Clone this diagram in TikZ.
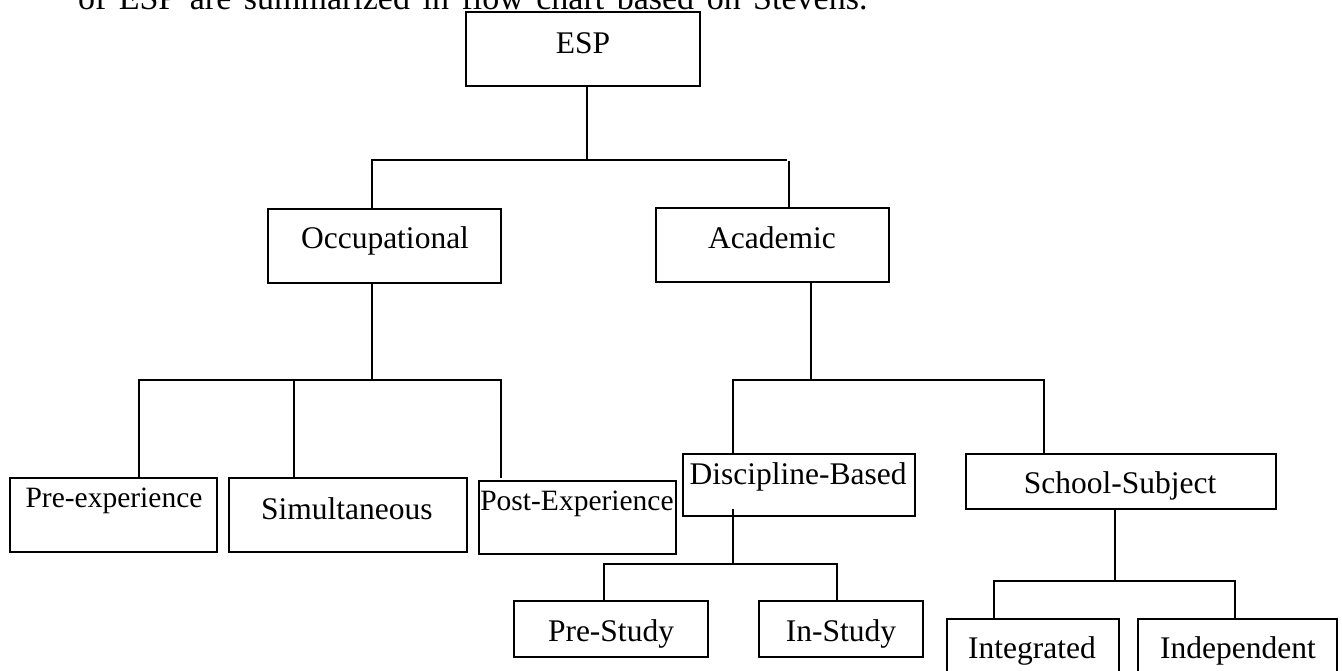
\documentclass[tikz,border=0pt]{standalone}
\usepackage{fontspec}
\setmainfont{Liberation Serif}
\begin{document}
\begin{tikzpicture}[x=1pt,y=-1pt,
  box/.style={draw, line width=1.6pt, rectangle, inner sep=0pt, outer sep=0pt},
  lbl/.style={inner sep=0pt, outer sep=0pt, font=\fontsize{31.5}{36}\selectfont},
  lblsmall/.style={inner sep=0pt, outer sep=0pt, font=\fontsize{29.5}{34}\selectfont},
  introtext/.style={inner sep=0pt, outer sep=0pt, font=\fontsize{34}{38}\selectfont},
  conn/.style={line width=1.6pt}]
\useasboundingbox (0,0) rectangle (1342,670);
\clip (0,0) rectangle (1342,670);
\fill[white] (0,0) rectangle (1342,670);
% intro text (cut at top)
\node[introtext, anchor=base west] (intro) at (78,9) {\spaceskip=12.5pt of ESP are summarized in flow chart based on Stevens.};
% boxes
\node[box, minimum width=234pt, minimum height=74pt] (esp) at (583,49) {};
\node[box, minimum width=233pt, minimum height=74pt] (occ) at (384.5,246) {};
\node[box, minimum width=233pt, minimum height=74pt] (acad) at (772.5,245) {};
\node[box, minimum width=207pt, minimum height=74pt] (pre) at (113.5,515) {};
\node[box, minimum width=238pt, minimum height=74pt] (sim) at (348,515) {};
\node[box, minimum width=197pt, minimum height=73pt] (post) at (577.5,517.5) {};
\node[box, minimum width=232pt, minimum height=62pt] (disc) at (799,485) {};
\node[box, minimum width=310pt, minimum height=55pt] (school) at (1121,481.5) {};
\node[box, minimum width=194pt, minimum height=56pt] (prestudy) at (611,629) {};
\node[box, minimum width=164pt, minimum height=56pt] (instudy) at (841,629) {};
\node[box, minimum width=172pt, minimum height=64pt] (integ) at (1033,651) {};
\node[box, minimum width=199pt, minimum height=64pt] (indep) at (1237.5,651) {};
% labels
\node[lbl, anchor=base] (tesp) at (583,53) {ESP};
\node[lbl, anchor=base] (tocc) at (385,248) {Occupational};
\node[lbl, anchor=base] (tacad) at (772,248) {Academic};
\node[lblsmall, anchor=base] (tpre) at (114,507) {Pre-experience};
\node[lbl, anchor=base west] (tsim) at (261,519) {Simultaneous};
\node[lblsmall, anchor=base] (tpost) at (577,510) {Post-Experience};
\node[lbl, anchor=base] (tdisc) at (798,484) {Discipline-Based};
\node[lbl, anchor=base] (tschool) at (1120,493) {School-Subject};
\node[lbl, anchor=base] (tprestudy) at (611,641) {Pre-Study};
\node[lbl, anchor=base] (tinstudy) at (841,641) {In-Study};
\node[lbl, anchor=base] (tinteg) at (1032,658) {Integrated};
\node[lbl, anchor=base] (tindep) at (1238,658) {Independent};
% junction coordinates
\coordinate (c1) at (587,160);
\coordinate (c2) at (372,160);
\coordinate (c3) at (787,160);
\coordinate (c4) at (789,161);
\coordinate (o1) at (372,380);
\coordinate (o2) at (139,380);
\coordinate (o3) at (294,380);
\coordinate (o4) at (501,380);
\coordinate (o5) at (501,478);
\coordinate (a1) at (811,380);
\coordinate (a2) at (733,380);
\coordinate (a3) at (1044,380);
\coordinate (d1) at (733,509);
\coordinate (d2) at (733,564);
\coordinate (d3) at (604,564);
\coordinate (d4) at (837,564);
\coordinate (s1) at (1115,581);
\coordinate (s2) at (994,581);
\coordinate (s3) at (1235,581);
% connectors
\draw[conn] (esp.south -| c1) -- (c1);
\draw[conn] (occ.north -| c2) |- (c3);
\draw[conn] (c4) -- (acad.north -| c4);
\draw[conn] (occ.south -| o1) -- (o1);
\draw[conn] (pre.north -| o2) |- (o4) -- (o5);
\draw[conn] (o3) -- (sim.north -| o3);
\draw[conn] (acad.south -| a1) -- (a1);
\draw[conn] (disc.north -| a2) |- (a3) -- (school.north -| a3);
\draw[conn] (d1) -- (d2);
\draw[conn] (prestudy.north -| d3) |- (d4) -- (instudy.north -| d4);
\draw[conn] (school.south -| s1) -- (s1);
\draw[conn] (integ.north -| s2) |- (s3) -- (indep.north -| s3);
\end{tikzpicture}
\end{document}
